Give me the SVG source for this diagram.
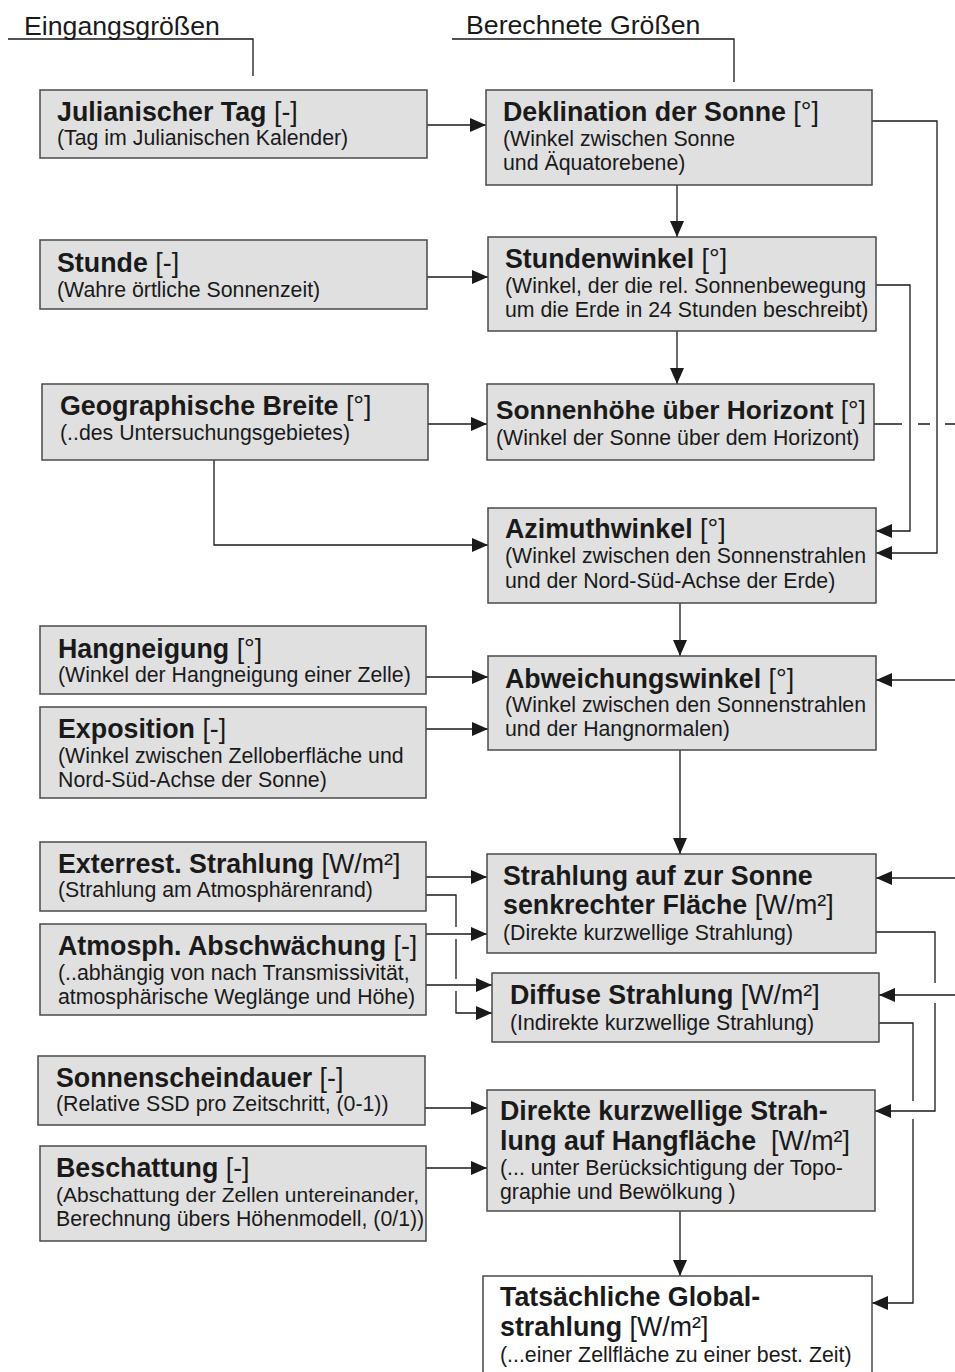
<svg xmlns="http://www.w3.org/2000/svg" width="955" height="1372" viewBox="0 0 955 1372">
<defs>
<style>
.box{fill:#e0e0e0;stroke:#4a4a4a;stroke-width:1.5}
.wbox{fill:#ffffff;stroke:#4a4a4a;stroke-width:1.5}
text{font-family:"Liberation Sans",Arial,sans-serif;fill:#1a1a1a}
.t{font-size:26.8px;font-weight:bold}
.u{font-weight:normal}
.s{font-size:21.3px}
.h{font-size:26.7px}
.c{fill:none;stroke:#1a1a1a;stroke-width:1.3}
</style>
<marker id="ar" markerUnits="userSpaceOnUse" markerWidth="17" markerHeight="15" refX="16" refY="7" orient="auto">
<path d="M0,0 L16,7 L0,14 z" fill="#1a1a1a"/>
</marker>
</defs>
<rect width="955" height="1372" fill="#ffffff"/>

<g id="headers">
<text class="h" x="24" y="35">Eingangsgrößen</text>
<path class="c" d="M8,39 H253 V76"/>
<text class="h" x="466" y="34">Berechnete Größen</text>
<path class="c" d="M452,39 H734 V82"/>
</g>

<g id="connectors">
<path class="c" d="M427,125 H486" marker-end="url(#ar)"/>
<path class="c" d="M677,185 V237" marker-end="url(#ar)"/>
<path class="c" d="M872,121 H937 V553 H876" marker-end="url(#ar)"/>
<path class="c" d="M427,277 H488" marker-end="url(#ar)"/>
<path class="c" d="M677,331 V384" marker-end="url(#ar)"/>
<path class="c" d="M876,285 H910 V531 H876" marker-end="url(#ar)"/>
<path class="c" d="M428,424 H487" marker-end="url(#ar)"/>
<path class="c" d="M874,424 H902 M918,424 H930 M945,424 H955"/>
<path class="c" d="M214,460 V545 H488" marker-end="url(#ar)"/>
<path class="c" d="M680,603 V656" marker-end="url(#ar)"/>
<path class="c" d="M426,677 H488" marker-end="url(#ar)"/>
<path class="c" d="M426,729 H488" marker-end="url(#ar)"/>
<path class="c" d="M955,680 H876" marker-end="url(#ar)"/>
<path class="c" d="M680,750 V854" marker-end="url(#ar)"/>
<path class="c" d="M955,878 H876" marker-end="url(#ar)"/>
<path class="c" d="M426,877 H487" marker-end="url(#ar)"/>
<path class="c" d="M426,895 H456 V927 M456,939 V979 M456,991 V1013 H492" marker-end="url(#ar)"/>
<path class="c" d="M426,934 H487" marker-end="url(#ar)"/>
<path class="c" d="M426,985 H492" marker-end="url(#ar)"/>
<path class="c" d="M955,995 H879" marker-end="url(#ar)"/>
<path class="c" d="M876,932 H935 V983 M935,1003 V1111 H875" marker-end="url(#ar)"/>
<path class="c" d="M879,1023 H913 V1101 M913,1119 V1303 H872" marker-end="url(#ar)"/>
<path class="c" d="M425,1108 H487" marker-end="url(#ar)"/>
<path class="c" d="M426,1168 H487" marker-end="url(#ar)"/>
<path class="c" d="M680,1211 V1276" marker-end="url(#ar)"/>
</g>

<g id="n-julianischer-tag">
<rect class="box" x="40" y="90" width="387" height="68"/>
<text class="t" x="57" y="121">Julianischer Tag <tspan class="u">[-]</tspan></text>
<text class="s" x="57" y="145">(Tag im Julianischen Kalender)</text>
</g>
<g id="n-stunde">
<rect class="box" x="40" y="240" width="387" height="69"/>
<text class="t" x="57" y="272">Stunde <tspan class="u">[-]</tspan></text>
<text class="s" x="57" y="297">(Wahre örtliche Sonnenzeit)</text>
</g>
<g id="n-geographische-breite">
<rect class="box" x="42" y="384" width="386" height="76"/>
<text class="t" x="60" y="415">Geographische Breite <tspan class="u">[°]</tspan></text>
<text class="s" x="60" y="440">(..des Untersuchungsgebietes)</text>
</g>
<g id="n-hangneigung">
<rect class="box" x="40" y="626" width="386" height="68"/>
<text class="t" x="58" y="658">Hangneigung <tspan class="u">[°]</tspan></text>
<text class="s" x="58" y="682">(Winkel der Hangneigung einer Zelle)</text>
</g>
<g id="n-exposition">
<rect class="box" x="40" y="707" width="386" height="91"/>
<text class="t" x="58" y="738">Exposition <tspan class="u">[-]</tspan></text>
<text class="s" x="58" y="763">(Winkel zwischen Zelloberfläche und</text>
<text class="s" x="58" y="787">Nord-Süd-Achse der Sonne)</text>
</g>
<g id="n-exterrest-strahlung">
<rect class="box" x="40" y="842" width="386" height="69"/>
<text class="t" x="58" y="873">Exterrest. Strahlung <tspan class="u">[W/m²]</tspan></text>
<text class="s" x="58" y="897">(Strahlung am Atmosphärenrand)</text>
</g>
<g id="n-atmosph-abschwaechung">
<rect class="box" x="40" y="924" width="386" height="91"/>
<text class="t" x="58" y="955">Atmosph. Abschwächung <tspan class="u">[-]</tspan></text>
<text class="s" x="58" y="980">(..abhängig von nach Transmissivität,</text>
<text class="s" x="58" y="1004">atmosphärische Weglänge und Höhe)</text>
</g>
<g id="n-sonnenscheindauer">
<rect class="box" x="38" y="1056" width="387" height="69"/>
<text class="t" x="56" y="1087">Sonnenscheindauer <tspan class="u">[-]</tspan></text>
<text class="s" x="56" y="1111">(Relative SSD pro Zeitschritt, (0-1))</text>
</g>
<g id="n-beschattung">
<rect class="box" x="40" y="1146" width="386" height="95"/>
<text class="t" x="56" y="1177">Beschattung <tspan class="u">[-]</tspan></text>
<text class="s" x="56" y="1202" style="font-size:21px">(Abschattung der Zellen untereinander,</text>
<text class="s" x="56" y="1226">Berechnung übers Höhenmodell, (0/1))</text>
</g>

<g id="n-deklination">
<rect class="box" x="486" y="90" width="386" height="95"/>
<text class="t" x="503" y="121">Deklination der Sonne <tspan class="u">[°]</tspan></text>
<text class="s" x="503" y="146">(Winkel zwischen Sonne</text>
<text class="s" x="503" y="170">und Äquatorebene)</text>
</g>
<g id="n-stundenwinkel">
<rect class="box" x="488" y="237" width="388" height="94"/>
<text class="t" x="505" y="268">Stundenwinkel <tspan class="u">[°]</tspan></text>
<text class="s" x="505" y="293">(Winkel, der die rel. Sonnenbewegung</text>
<text class="s" x="505" y="317">um die Erde in 24 Stunden beschreibt)</text>
</g>
<g id="n-sonnenhoehe">
<rect class="box" x="487" y="384" width="387" height="76"/>
<text class="t" x="496" y="419" style="font-size:26.3px">Sonnenhöhe über Horizont <tspan class="u">[°]</tspan></text>
<text class="s" x="496" y="445">(Winkel der Sonne über dem Horizont)</text>
</g>
<g id="n-azimuthwinkel">
<rect class="box" x="488" y="508" width="388" height="95"/>
<text class="t" x="505" y="538">Azimuthwinkel <tspan class="u">[°]</tspan></text>
<text class="s" x="505" y="563">(Winkel zwischen den Sonnenstrahlen</text>
<text class="s" x="505" y="588">und der Nord-Süd-Achse der Erde)</text>
</g>
<g id="n-abweichungswinkel">
<rect class="box" x="488" y="656" width="388" height="94"/>
<text class="t" x="505" y="688">Abweichungswinkel <tspan class="u">[°]</tspan></text>
<text class="s" x="505" y="712">(Winkel zwischen den Sonnenstrahlen</text>
<text class="s" x="505" y="736">und der Hangnormalen)</text>
</g>
<g id="n-strahlung-senkrecht">
<rect class="box" x="487" y="854" width="389" height="99"/>
<text class="t" x="503" y="885">Strahlung auf zur Sonne</text>
<text class="t" x="503" y="914">senkrechter Fläche <tspan class="u">[W/m²]</tspan></text>
<text class="s" x="503" y="940">(Direkte kurzwellige Strahlung)</text>
</g>
<g id="n-diffuse-strahlung">
<rect class="box" x="492" y="973" width="387" height="69"/>
<text class="t" x="510" y="1004">Diffuse Strahlung <tspan class="u">[W/m²]</tspan></text>
<text class="s" x="510" y="1030">(Indirekte kurzwellige Strahlung)</text>
</g>
<g id="n-direkte-hangflaeche">
<rect class="box" x="487" y="1090" width="388" height="121"/>
<text class="t" x="500" y="1120">Direkte kurzwellige Strah-</text>
<text class="t" x="500" y="1150" xml:space="preserve">lung auf Hangfläche  <tspan class="u">[W/m²]</tspan></text>
<text class="s" x="500" y="1175">(... unter Berücksichtigung der Topo-</text>
<text class="s" x="500" y="1199">graphie und Bewölkung )</text>
</g>
<g id="n-globalstrahlung">
<rect class="wbox" x="483" y="1276" width="389" height="110"/>
<text class="t" x="500" y="1306">Tatsächliche Global-</text>
<text class="t" x="500" y="1336">strahlung <tspan class="u">[W/m²]</tspan></text>
<text class="s" x="500" y="1362">(...einer Zellfläche zu einer best. Zeit)</text>
</g>
</svg>
